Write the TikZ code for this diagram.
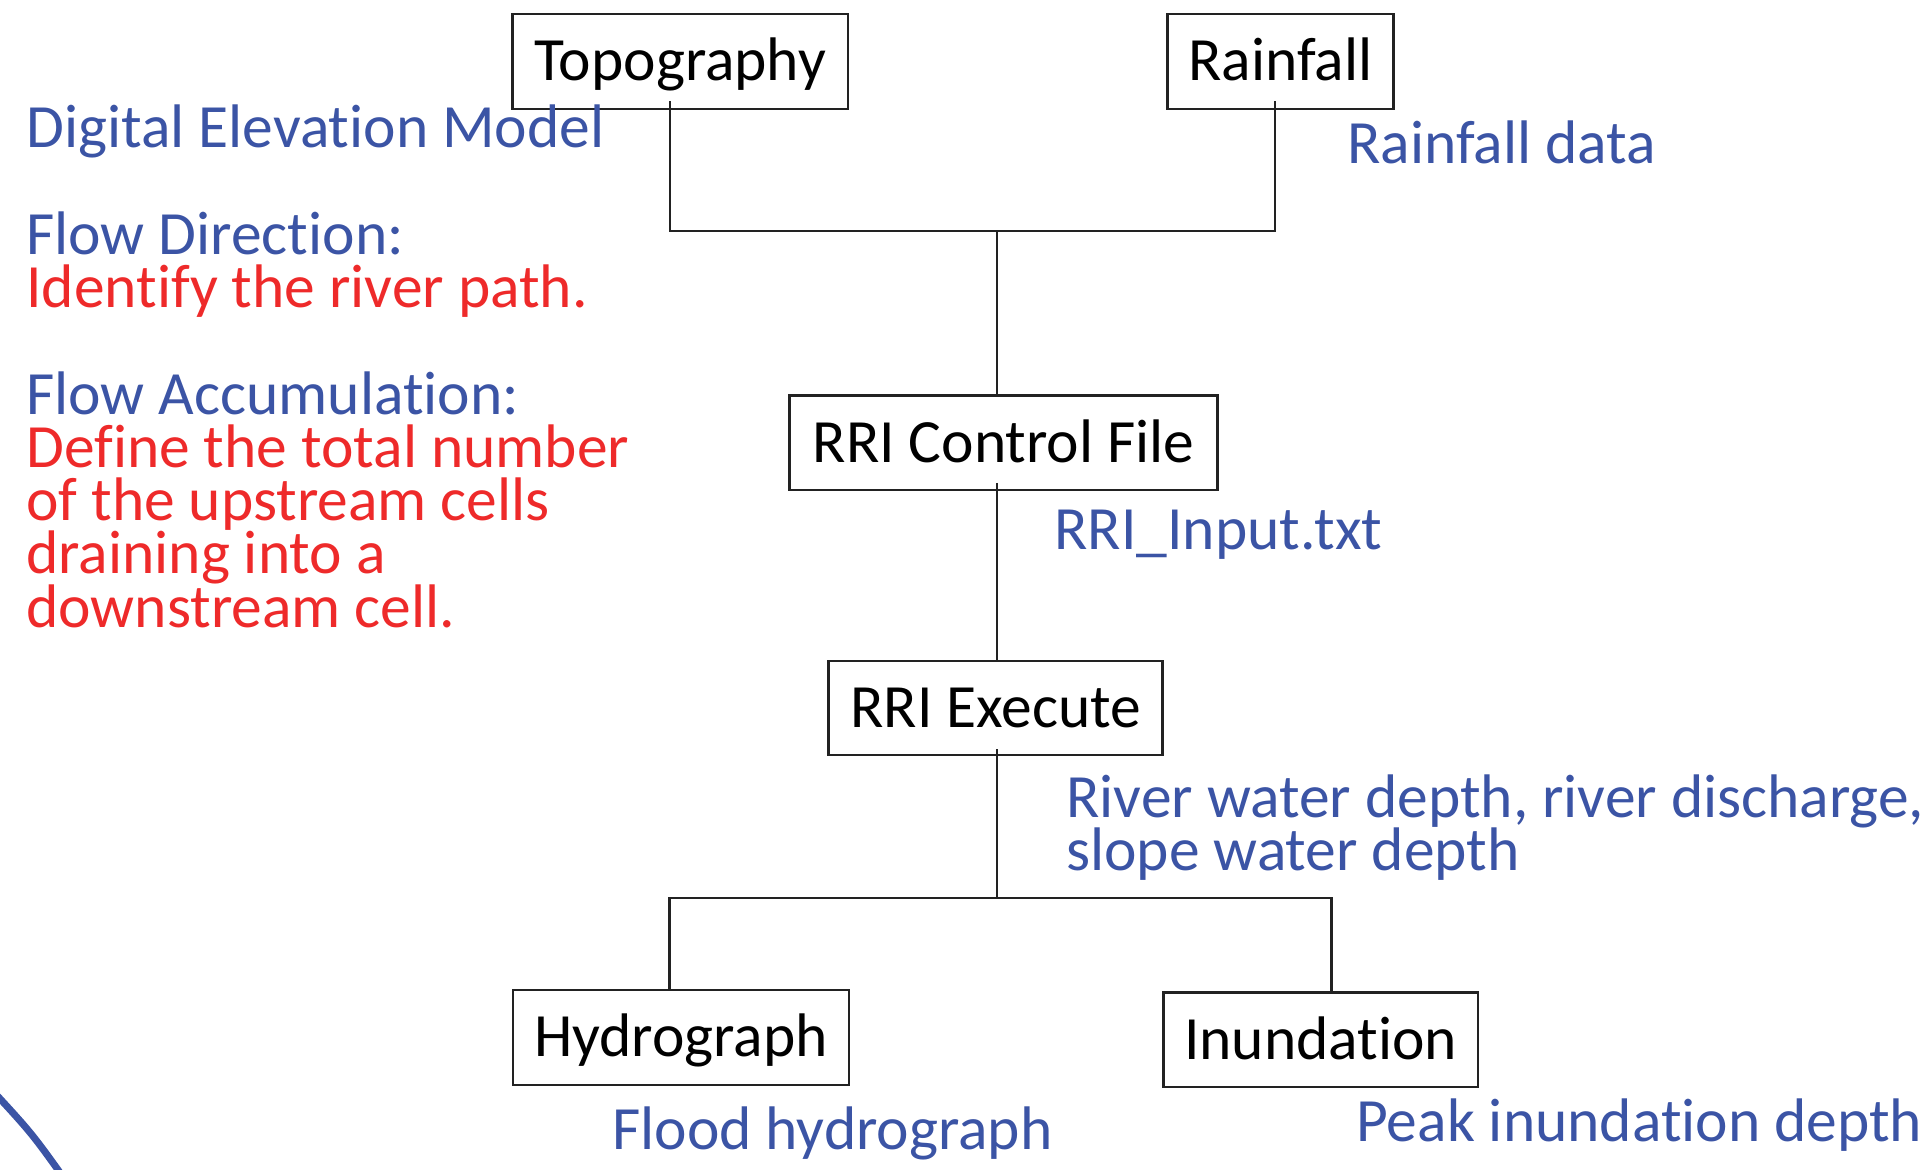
\documentclass[tikz,border=0pt]{standalone}
\usepackage{fontspec}
\setmainfont{Carlito}[RawFeature=-liga,RawFeature=-clig,RawFeature=-dlig,RawFeature=-calt]
\definecolor{noteblue}{HTML}{3B54A5}
\definecolor{notered}{HTML}{EE2A2A}
\definecolor{edge}{HTML}{222222}
\begin{document}
\begin{tikzpicture}[x=0.5pt,y=-0.5pt,
  every node/.style={font=\fontsize{30.75pt}{36pt}\selectfont},
  stepbox/.style={draw=edge,line width=1.2pt,inner sep=0pt,
    minimum height=47.5pt,text height=19.4pt,text depth=0pt,text=black},
  conn/.style={draw=edge,line width=1.2pt},
  bluetxt/.style={anchor=base west,inner sep=0pt,text=noteblue},
  redtxt/.style={anchor=base west,inner sep=0pt,text=notered},
  ring/.style={draw=noteblue,line width=3.5pt}]
\useasboundingbox (0,0) rectangle (1927,1170);

% process boxes
\node[stepbox,minimum width=167.7pt] (topo)  at (680.2,61.5)   {Topography};
\node[stepbox,minimum width=113pt]   (rain)  at (1280.6,61.5)  {Rainfall};
\node[stepbox,minimum width=213.9pt,minimum height=47.2pt] (ctrl) at (1003.5,442.9) {RRI Control File};
\node[stepbox,minimum width=167pt,minimum height=47pt] (exec) at (995.6,707.7) {RRI Execute};
\node[stepbox,minimum width=168.2pt] (hydro) at (681,1037.5)   {Hydrograph};
\node[stepbox,minimum width=157.2pt,minimum height=47.3pt] (inund) at (1320.7,1039.7) {Inundation};

% junction points of the elbow connectors
\coordinate (j1) at (997,231);
\coordinate (j2) at (997,898);
\path (ctrl.south -| j1) coordinate (c1);
\path (exec.south -| j1) coordinate (e1);

% connectors
\draw[conn] ([xshift=-5.1pt,yshift=4.5pt]topo.south) |- (j1)
            -| ([xshift=-2.8pt,yshift=4.5pt]rain.south);
\draw[conn] (j1) -- (j1 |- ctrl.north);
\draw[conn] ([yshift=4.2pt]c1) -- (c1 |- exec.north);
\draw[conn] ([yshift=3.3pt]e1) -- (j2);
\draw[conn] ([xshift=-5.7pt]hydro.north) |- (j2) -| ([xshift=5.3pt]inund.north);

% notes on the left
\node[bluetxt] (dem)   at (26,148)   {Digital Elevation Model};
\node[bluetxt] (fdir)  at (26,254.3) {Flow Direction:};
\node[redtxt]  (fdirt) at (26,307.6) {Identify the river path.};
\node[bluetxt] (facc)  at (26,414.2) {Flow Accumulation:};
\node[redtxt]  (facc1) at (26,467.8) {Define the total number};
\node[redtxt]  (facc2) at (26,520.8) {of the upstream cells};
\node[redtxt]  (facc3) at (26,573.7) {draining into a};
\node[redtxt]  (facc4) at (26,627)   {downstream cell.};

% notes beside the flow
\node[bluetxt] (rdata) at (1347,163.5) {Rainfall data};
\node[bluetxt] (rinp)  at (1054,550)   {RRI\_Input.txt};
\node[bluetxt] (out1)  at (1066,817)   {River water depth, river discharge,};
\node[bluetxt] (out2)  at (1066,870)   {slope water depth};
\node[bluetxt] (fhyd)  at (612,1149)   {Flood hydrograph};
\node[bluetxt] (pdep)  at (1356,1141)  {Peak inundation depth};

% decorative ring in the lower left corner
\draw[ring] (-8,1090) .. controls (32,1133.5) .. (66,1181);
\end{tikzpicture}
\end{document}
